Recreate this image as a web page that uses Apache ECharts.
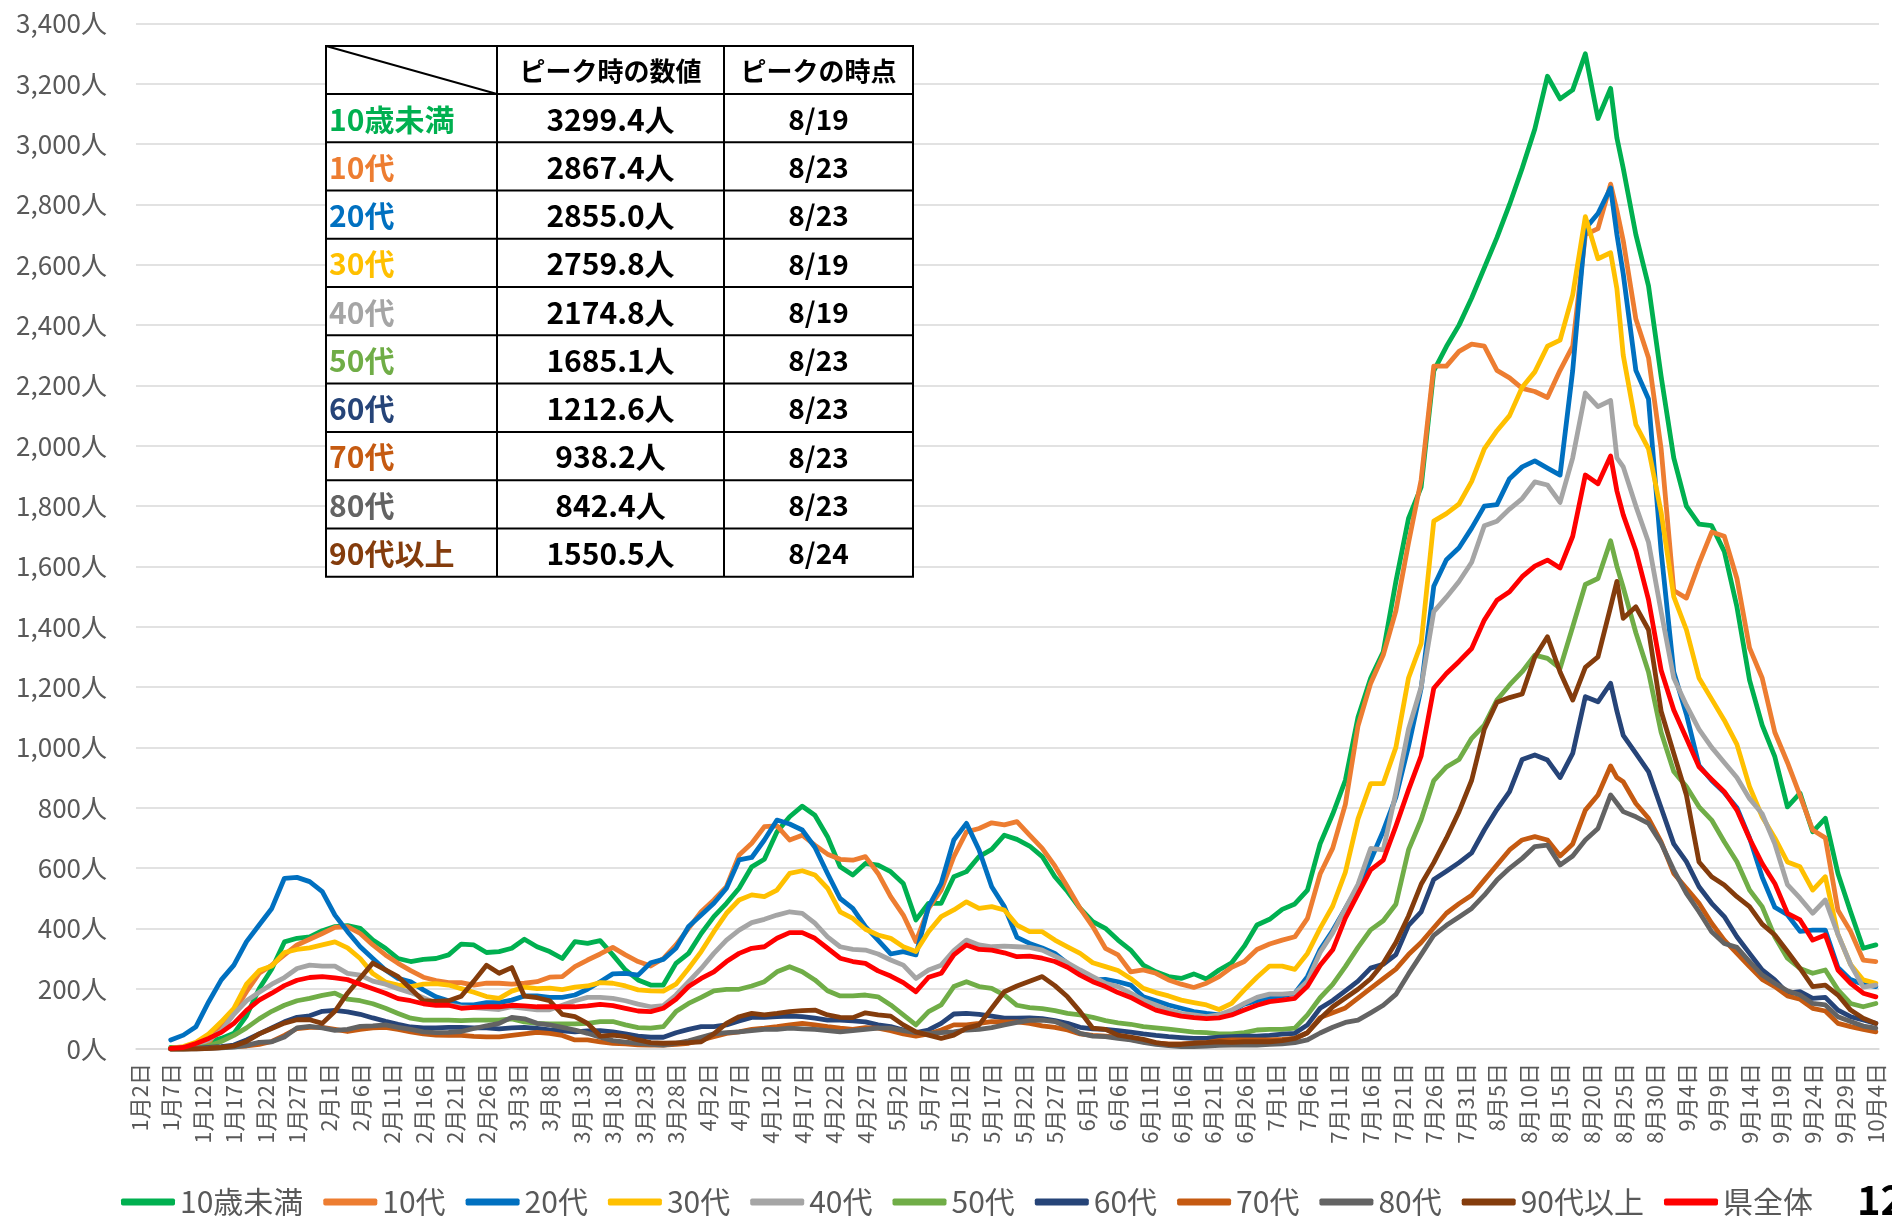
<!DOCTYPE html>
<html>
<head>
<meta charset="utf-8">
<script src="https://cdn.jsdelivr.net/npm/echarts@6.0.0/dist/echarts.min.js"></script>
<style>
  html, body { margin: 0; padding: 0; background: #fff; }
  #chart { width: 1892px; height: 1216px; }
</style>
</head>
<body>
<div id="chart"></div>
<script>
// 横軸：1月2日〜10月4日（毎日）
var categories = [];
for (var n = 0; n < 276; n++) {
  var dd = new Date(2022, 0, 2 + n);
  categories.push((dd.getMonth() + 1) + '月' + dd.getDate() + '日');
}

// 値を読み取った日（1月1日=1 の通し日）
var readDays = [7,9,11,13,15,17,19,21,23,25,27,29,31,33,35,37,39,41,43,45,47,49,51,53,55,57,59,61,63,65,67,69,71,
  73,75,77,79,81,83,85,87,89,91,93,95,97,99,101,103,105,107,109,111,113,115,117,119,121,123,125,127,129,131,133,135,137,139,141,
  143,145,147,149,151,153,155,157,159,161,163,165,167,169,171,173,175,177,179,181,183,185,187,
  189,191,193,195,197,199,201,203,205,207,209,211,213,
  215,217,219,221,223,225,227,229,231,233,235,236,237,239,241,243,245,247,249,251,253,255,257,259,261,263,265,267,269,271,273,275,277];

var seriesNames = ['10歳未満', '10代', '20代', '30代', '40代', '50代', '60代', '70代', '80代', '90代以上', '県全体'];
var seriesColors = ['#00B050', '#ED7D31', '#0070C0', '#FFC000', '#A5A5A5', '#70AD47', '#264478', '#C55A11', '#636363', '#843C0C', '#FF0000'];

var under10 = [5,5,13,24,35,52,110,200,265,355,367,372,392,406,409,400,361,334,300,290,297,300,312,348,345,320,323,334,364,339,323,300,356,
  350,359,312,262,229,212,212,284,317,383,439,483,533,604,629,720,770,805,775,704,604,577,615,610,588,549,428,483,483,571,588,638,662,709,695,
  673,638,571,522,466,422,400,361,328,278,256,240,234,249,232,262,286,341,411,430,463,481,527,
  680,779,891,1100,1229,1317,1550,1759,1863,2248,2329,2400,2490,
  2590,2690,2800,2920,3050,3225,3150,3180,3299.4,3085,3185,3020,2920,2700,2530,2230,1960,1800,1740,1735,1650,1466,1223,1074,969,803,848,720,765,582,455,334,345];
var age10 = [0,3,8,20,80,124,190,251,278,312,345,364,383,403,406,383,345,312,284,260,238,227,220,220,212,218,218,215,218,223,238,240,273,
  295,315,337,312,290,275,300,345,400,455,494,538,643,682,737,740,693,709,676,646,629,626,638,582,505,444,356,466,527,638,720,731,750,743,754,
  709,665,607,538,466,406,334,312,256,262,251,229,215,204,218,240,271,290,330,348,361,372,433,
  580,666,811,1071,1212,1306,1453,1678,1887,2264,2264,2313,2337,
  2330,2250,2225,2190,2180,2160,2250,2330,2700,2720,2867.4,2780,2680,2420,2292,1990,1520,1495,1610,1714,1700,1560,1330,1230,1050,950,840,726,700,460,390,295,290];
var age20 = [30,46,74,156,229,278,356,411,466,566,569,555,522,444,389,339,300,262,234,223,196,173,160,146,146,154,154,162,176,176,171,171,179,
  198,223,249,251,245,286,297,334,406,444,483,533,627,635,693,759,746,726,669,582,499,466,406,361,315,323,312,472,549,693,748,660,538,472,370,
  350,335,317,284,253,229,231,223,212,173,160,146,135,124,118,113,124,149,160,171,176,185,240,
  330,393,466,538,626,723,835,1004,1196,1534,1622,1662,1727,
  1800,1805,1891,1930,1950,1926,1903,2250,2720,2770,2855,2700,2570,2250,2155,1650,1250,1110,940,890,850,800,700,570,470,445,390,394,394,270,230,215,207];
var age30 = [3,8,22,50,90,135,215,260,275,320,330,335,345,355,335,300,250,222,212,207,215,217,212,200,188,174,168,192,205,200,202,197,205,
  209,220,218,209,196,193,192,215,267,323,389,450,494,511,505,527,582,591,577,533,455,433,397,378,367,339,323,389,439,461,488,466,472,461,411,
  389,389,361,339,317,286,273,260,234,201,187,176,162,154,146,131,151,196,238,275,275,264,317,
  400,474,586,763,880,880,1000,1230,1344,1750,1775,1807,1882,
  1990,2050,2100,2194,2245,2330,2350,2500,2759.8,2620,2640,2520,2300,2070,1990,1780,1500,1390,1230,1160,1090,1010,870,770,700,620,604,527,571,380,280,229,218];
var age40 = [2,5,12,30,60,115,160,188,215,237,267,278,275,275,251,245,225,215,200,187,170,152,146,140,137,134,131,140,135,130,130,145,160,
  171,171,168,160,149,140,144,179,223,267,317,361,394,419,430,444,455,450,417,372,339,330,328,315,295,278,234,262,278,326,361,345,339,341,339,
  337,328,308,286,262,240,218,207,185,162,146,129,118,113,107,113,129,151,171,182,182,185,225,
  320,385,466,546,665,660,850,1060,1200,1450,1498,1550,1614,
  1735,1750,1790,1825,1880,1870,1812,1960,2174.8,2130,2150,1960,1930,1800,1680,1450,1230,1140,1060,1000,950,900,830,780,680,545,500,450,494,380,280,205,212];
var age50 = [0,0,3,10,25,45,70,100,125,145,160,168,178,185,165,160,150,135,118,102,96,96,96,94,96,96,96,100,90,85,83,83,83,
  85,91,91,80,71,69,74,124,151,171,193,198,198,209,223,256,273,256,229,193,176,176,179,173,146,113,80,124,146,207,223,207,201,179,145,
  137,134,127,118,113,105,94,87,82,74,70,66,61,56,54,50,50,54,63,65,65,69,113,
  170,214,273,337,395,425,480,660,760,890,935,960,1030,
  1074,1157,1207,1251,1306,1295,1262,1400,1540,1560,1685.1,1600,1530,1380,1250,1050,920,870,803,759,687,621,527,472,372,301,267,251,262,196,151,140,151];
var age60 = [0,0,2,5,8,13,30,50,70,90,105,110,125,128,123,115,103,92,82,73,70,70,72,72,70,70,67,70,72,68,63,60,57,
  60,61,57,50,43,39,39,54,65,74,74,80,93,105,105,107,109,107,102,96,96,93,90,80,74,63,54,63,85,116,118,115,109,102,102,
  103,101,94,85,72,67,65,61,56,50,45,41,38,35,35,39,41,43,43,45,49,52,80,
  135,161,193,225,268,281,313,410,455,562,589,618,650,
  726,794,853,960,975,958,900,980,1168,1151,1212.6,1120,1040,980,920,800,680,621,538,483,439,372,317,262,229,185,190,168,171,129,107,96,85];
var age70 = [0,0,1,3,5,8,10,15,25,45,68,72,72,65,58,65,70,72,65,57,50,46,45,45,42,40,40,45,50,55,52,45,30,
  30,24,19,17,14,13,13,15,19,30,41,52,57,65,69,74,80,85,80,74,69,65,71,69,61,50,43,50,63,80,80,85,91,90,90,
  85,77,72,63,50,45,43,39,32,24,19,17,17,19,21,28,30,30,30,30,32,35,54,
  104,120,136,169,201,233,265,313,353,402,450,482,510,
  560,610,660,693,704,693,640,680,792,842,938.2,900,886,814,765,687,582,533,483,417,361,317,273,231,207,176,165,135,126,85,74,65,57];
var age80 = [0,0,0,2,4,6,12,22,24,40,70,75,70,62,65,75,77,80,72,65,57,54,55,58,68,77,85,105,100,85,80,72,63,
  52,39,28,23,19,15,13,19,27,39,50,54,57,61,65,65,69,67,65,61,57,61,65,69,69,61,54,52,54,57,63,65,71,80,88,
  95,96,91,74,52,43,41,35,30,22,15,11,8,8,10,12,13,13,13,15,17,21,30,
  53,72,88,96,120,145,181,249,313,377,410,438,466,
  510,560,599,632,671,676,610,640,693,731,842.4,815,787,770,748,682,593,516,455,389,350,337,290,245,218,193,179,151,146,107,91,76,69];
var age90plus = [0,0,0,2,5,10,25,50,68,86,97,97,85,125,185,235,285,262,240,200,160,158,160,175,225,278,251,270,175,170,160,115,107,
  85,43,46,41,30,21,19,20,21,24,50,85,107,118,113,118,124,127,129,113,105,104,120,113,109,80,57,46,35,46,69,80,135,190,209,
  225,240,210,173,124,69,65,46,39,32,21,15,15,19,21,24,22,24,24,24,28,35,54,
  100,140,169,198,233,284,353,441,546,618,699,787,891,
  1060,1150,1165,1177,1300,1367,1250,1157,1265,1300,1466,1550.5,1428,1466,1390,1120,980,842,620,571,544,505,472,414,378,323,267,207,212,179,129,102,85];
var prefTotal = [2,5,18,35,55,85,128,162,185,210,228,237,240,236,230,215,200,185,167,160,150,145,145,135,138,140,140,145,143,140,140,140,140,
  143,148,144,135,126,124,135,165,207,234,256,290,317,334,339,367,386,386,367,334,301,290,284,259,242,220,190,238,251,312,345,330,328,319,306,
  308,301,290,271,245,223,207,187,171,149,129,118,109,104,101,103,113,129,145,157,162,168,208,
  278,329,434,514,594,626,739,859,972,1196,1245,1285,1328,
  1422,1488,1516,1566,1601,1621,1595,1700,1903,1874,1966,1850,1771,1652,1490,1256,1124,1030,936,894,853,792,698,615,549,450,428,361,378,262,218,185,173];

// 表（ピーク時）
var tableAges = ['10歳未満', '10代', '20代', '30代', '40代', '50代', '60代', '70代', '80代', '90代以上'];
var peakValues = [3299.4, 2867.4, 2855.0, 2759.8, 2174.8, 1685.1, 1212.6, 938.2, 842.4, 1550.5];
var peakDates = ['8/19', '8/23', '8/23', '8/19', '8/19', '8/23', '8/23', '8/23', '8/23', '8/24'];
var tableHeads = ['ピーク時の数値', 'ピークの時点'];

var allSeries = [under10, age10, age20, age30, age40, age50, age60, age70, age80, age90plus, prefTotal];
allSeries.forEach(function (arr, k) {
  if (arr.length !== readDays.length) console.error(seriesNames[k] + ' length ' + arr.length);
});

var FONT = '"Noto Sans CJK JP", "Noto Sans", sans-serif';

// 表の配置
var tX = [326, 497, 724, 913];
var tTop = 46, headH = 48, rowH = 48.27;
var graphics = [];
var tBottom = tTop + headH + rowH * tableAges.length;
graphics.push({ type: 'rect', z: 100, shape: { x: tX[0], y: tTop, width: tX[3] - tX[0], height: tBottom - tTop },
  style: { fill: '#ffffff', stroke: '#000', lineWidth: 2 } });
for (var r = 0; r < tableAges.length; r++) {
  var yLine = tTop + headH + rowH * r;
  graphics.push({ type: 'line', z: 101, shape: { x1: tX[0], y1: yLine, x2: tX[3], y2: yLine }, style: { stroke: '#000', lineWidth: 2 } });
}
[tX[1], tX[2]].forEach(function (x) {
  graphics.push({ type: 'line', z: 101, shape: { x1: x, y1: tTop, x2: x, y2: tBottom }, style: { stroke: '#000', lineWidth: 2 } });
});
graphics.push({ type: 'line', z: 101, shape: { x1: tX[0], y1: tTop, x2: tX[1], y2: tTop + headH }, style: { stroke: '#000', lineWidth: 2 } });
tableHeads.forEach(function (h, c) {
  graphics.push({ type: 'text', z: 102, style: { text: h, x: (tX[c + 1] + tX[c + 2]) / 2, y: tTop + headH / 2 + 1,
    textAlign: 'center', textVerticalAlign: 'middle', align: 'center', verticalAlign: 'middle',
    font: 'bold 26px ' + FONT, fill: '#000' } });
});
tableAges.forEach(function (a, r) {
  var yc = tTop + headH + rowH * r + rowH / 2 + 1;
  graphics.push({ type: 'text', z: 102, style: { text: a, x: tX[0] + 3, y: yc,
    textAlign: 'left', textVerticalAlign: 'middle', align: 'left', verticalAlign: 'middle',
    font: 'bold 30px ' + FONT, fill: seriesColors[r] } });
  graphics.push({ type: 'text', z: 102, style: { text: peakValues[r].toFixed(1) + '人', x: (tX[1] + tX[2]) / 2, y: yc,
    textAlign: 'center', textVerticalAlign: 'middle', align: 'center', verticalAlign: 'middle',
    font: 'bold 30px ' + FONT, fill: '#000' } });
  graphics.push({ type: 'text', z: 102, style: { text: peakDates[r], x: (tX[2] + tX[3]) / 2, y: yc,
    textAlign: 'center', textVerticalAlign: 'middle', align: 'center', verticalAlign: 'middle',
    font: 'bold 28px ' + FONT, fill: '#000' } });
});
// ページ番号
graphics.push({ type: 'text', z: 102, style: { text: '12', x: 1857, y: 1200, textVerticalAlign: 'middle', verticalAlign: 'middle',
  font: 'bold 40px ' + FONT, fill: '#000' } });

var chart = echarts.init(document.getElementById('chart'));
var option = {
  animation: false,
  backgroundColor: '#ffffff',
  textStyle: { fontFamily: FONT },
  grid: { left: 136, right: 13, top: 23.5, bottom: 167 },
  legend: {
    data: seriesNames,
    left: 116,
    top: 1182,
    icon: 'roundRect',
    itemWidth: 54,
    itemHeight: 7,
    itemGap: 20,
    textStyle: { fontSize: 30, color: '#595959', fontFamily: FONT }
  },
  xAxis: {
    type: 'category',
    data: categories,
    boundaryGap: true,
    axisLine: { lineStyle: { color: '#d9d9d9', width: 1.5 } },
    axisTick: { interval: 4, length: 6, lineStyle: { color: '#d9d9d9', width: 1.5 } },
    axisLabel: { interval: 4, rotate: 90, margin: 14, fontSize: 22, color: '#595959', fontFamily: FONT }
  },
  yAxis: {
    type: 'value',
    min: 0,
    max: 3400,
    interval: 200,
    axisLine: { show: false },
    axisTick: { show: false },
    splitLine: { lineStyle: { color: '#d9d9d9', width: 1.5 } },
    axisLabel: {
      margin: 29, fontSize: 26, color: '#595959', fontFamily: FONT,
      formatter: function (v) { return v.toLocaleString('en-US') + '人'; }
    }
  },
  graphic: { elements: graphics },
  series: seriesNames.map(function (name, k) {
    return {
      name: name,
      type: 'line',
      symbol: 'none',
      showSymbol: false,
      data: readDays.map(function (day, j) { return [day - 2, allSeries[k][j]]; }),
      lineStyle: { width: 4.8, color: seriesColors[k], cap: 'round', join: 'round' },
      itemStyle: { color: seriesColors[k] }
    };
  })
};
chart.setOption(option);
</script>
</body>
</html>
